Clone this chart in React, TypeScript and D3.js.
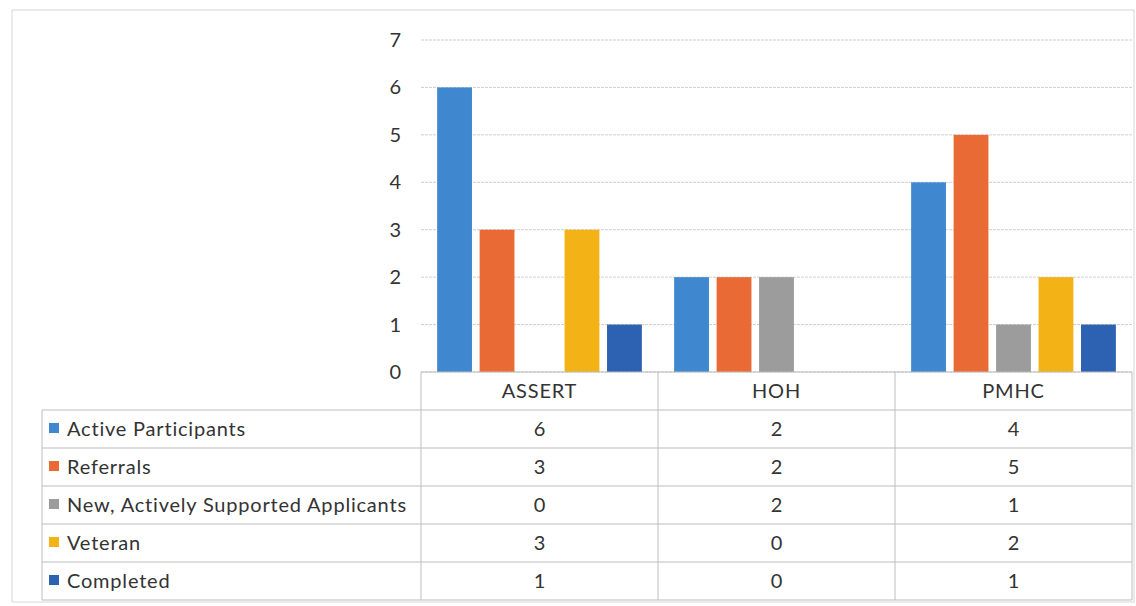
import React from "react";
import * as d3 from "d3";

const categories = ["ASSERT", "HOH", "PMHC"];
const seriesNames = ["Active Participants", "Referrals", "New, Actively Supported Applicants", "Veteran", "Completed"];
const activeParticipants = [6, 2, 4];
const referrals = [3, 2, 5];
const newApplicants = [0, 2, 1];
const veteran = [3, 0, 2];
const completed = [1, 0, 1];
const seriesValues = [activeParticipants, referrals, newApplicants, veteran, completed];
const seriesColors = ["#3F88D0", "#E96A35", "#9C9C9C", "#F3B215", "#2D62B2"];
const yTicks = [0, 1, 2, 3, 4, 5, 6, 7];

const W = 1136;
const H = 606;
const plotLeft = 421;
const plotRight = 1132;
const plotTop = 40;
const plotBottom = 372;
const legendLeft = 42;
const rowH = 38;
const font = "Lato, 'Open Sans', 'DejaVu Sans', sans-serif";
const fs = 20;
const ls = 0.8;

export default function App() {
  const x0 = d3.scaleBand<string>().domain(categories).range([plotLeft, plotRight]).padding(0);
  const x1 = d3
    .scaleBand<string>()
    .domain(seriesNames)
    .range([0, x0.bandwidth()])
    .paddingInner(0.18)
    .paddingOuter(0.38);
  const y = d3.scaleLinear().domain([0, 7]).range([plotBottom, plotTop]);

  const headerBottom = plotBottom + rowH;
  const tableBottom = headerBottom + rowH * seriesNames.length;
  const lineColor = "#bdbdbd";

  return (
    <div style={{ position: "absolute", left: 0, top: 0 }}>
      <svg width={W} height={H} style={{ display: "block", background: "#fff" }}>
        <rect x={12} y={10} width={W - 14} height={H - 14} fill="none" stroke="#d6d6d6" strokeWidth={1} />
        {yTicks.map((t) => (
          <g key={t}>
            <line x1={plotLeft} x2={plotRight} y1={y(t)} y2={y(t)} stroke="#cfcfcf" strokeWidth={1} strokeDasharray="3,1" />
            <text x={401} y={y(t)} dy="0.35em" textAnchor="end" fontSize={fs} fontFamily={font} fill="#333">
              {t}
            </text>
          </g>
        ))}
        {categories.map((c, ci) => (
          <g key={c} transform={`translate(${x0(c)},0)`}>
            {seriesNames.map((s, si) => {
              const v = seriesValues[si][ci];
              return (
                <rect
                  key={s}
                  x={x1(s)}
                  y={y(v)}
                  width={x1.bandwidth()}
                  height={y(0) - y(v)}
                  fill={seriesColors[si]}
                />
              );
            })}
          </g>
        ))}
        <line x1={plotLeft} x2={plotRight} y1={plotBottom} y2={plotBottom} stroke={lineColor} />
        {seriesNames.map((_, i) => (
          <line
            key={i}
            x1={legendLeft}
            x2={plotRight}
            y1={headerBottom + rowH * i}
            y2={headerBottom + rowH * i}
            stroke={lineColor}
          />
        ))}
        <line x1={legendLeft} x2={plotRight} y1={tableBottom} y2={tableBottom} stroke={lineColor} />
        <line x1={legendLeft} x2={legendLeft} y1={headerBottom} y2={tableBottom} stroke={lineColor} />
        {categories.map((c) => (
          <line key={c} x1={x0(c)} x2={x0(c)} y1={plotBottom} y2={tableBottom} stroke={lineColor} />
        ))}
        <line x1={plotRight} x2={plotRight} y1={plotBottom} y2={tableBottom} stroke={lineColor} />
        {categories.map((c) => (
          <text
            key={c}
            x={(x0(c) as number) + x0.bandwidth() / 2}
            y={plotBottom + rowH / 2}
            dy="0.35em"
            textAnchor="middle"
            fontSize={fs}
            letterSpacing={ls}
            fontFamily={font}
            fill="#333"
          >
            {c}
          </text>
        ))}
        {seriesNames.map((s, si) => {
          const cy = headerBottom + rowH * si + rowH / 2;
          return (
            <g key={s}>
              <rect x={49} y={cy - 6} width={10} height={10} fill={seriesColors[si]} />
              <text x={67} y={cy} dy="0.35em" fontSize={fs} letterSpacing={ls} fontFamily={font} fill="#333">
                {s}
              </text>
              {categories.map((c, ci) => (
                <text
                  key={c}
                  x={(x0(c) as number) + x0.bandwidth() / 2}
                  y={cy}
                  dy="0.35em"
                  textAnchor="middle"
                  fontSize={fs}
                  fontFamily={font}
                  fill="#333"
                >
                  {seriesValues[si][ci]}
                </text>
              ))}
            </g>
          );
        })}
      </svg>
    </div>
  );
}
